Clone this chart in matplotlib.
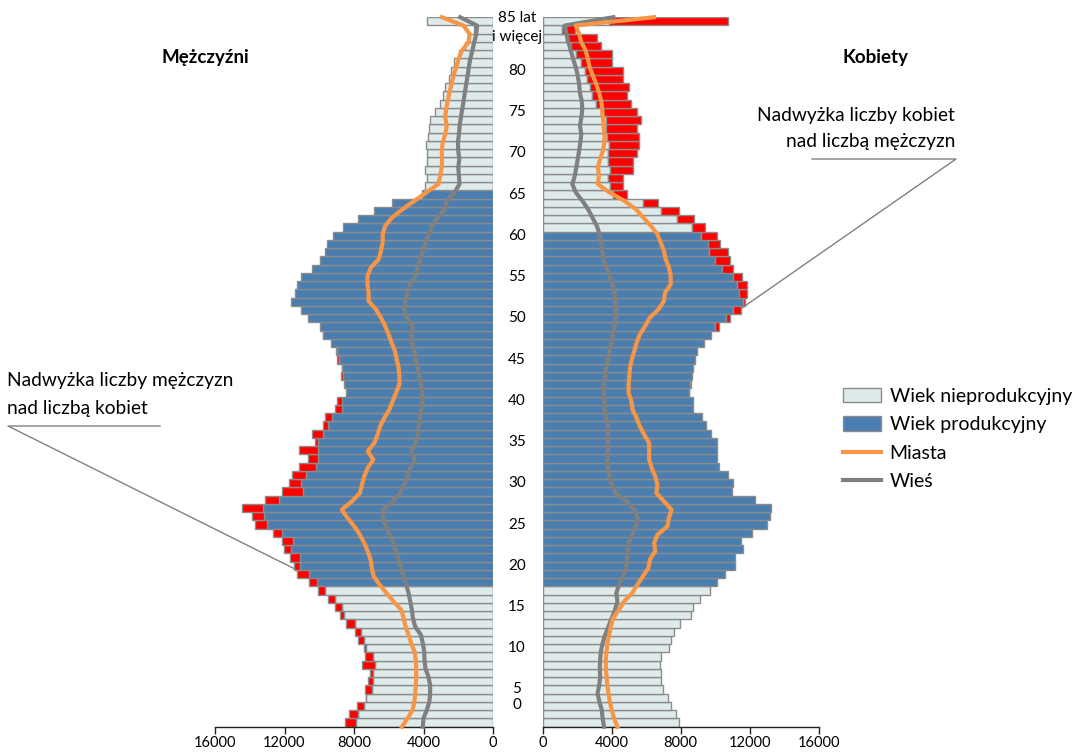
"""
Piramida wieku ludnosci: mezczyzni i kobiety, miasta i wies
"""

import numpy
import matplotlib
matplotlib.use('Agg')
import matplotlib.pyplot as plt
from matplotlib import transforms
from matplotlib.lines import Line2D
from matplotlib.patches import Patch

plt.rcParams['font.family'] = ['Lato', 'DejaVu Sans']

# one row per year of age, last row is "85 lat i wiecej"
ages = list(range(86))

men_total = [8520, 8290, 7850, 7300, 7390, 7180, 7090, 7530, 7390, 7430,
             7770, 7960, 8480, 8800, 9090, 9490, 10060, 10570, 11300, 11480,
             11700, 12030, 12120, 12690, 13700, 13890, 14430, 13120, 12120, 11740,
             11580, 11160, 10620, 11160, 10250, 10390, 9770, 9660, 9080, 9000,
             8460, 8560, 8750, 8710, 8960, 9050, 9330, 9790, 9970, 10640,
             11060, 11620, 11390, 11290, 11060, 10390, 9970, 9660, 9560, 9200,
             8660, 7790, 6830, 5830, 4080, 3890, 3810, 3930, 3770, 3770,
             3850, 3750, 3670, 3650, 3360, 3070, 2860, 2750, 2540, 2430,
             2240, 1940, 1630, 1360, 1100, 3820]

women_total = [7900, 7750, 7420, 7290, 6980, 6880, 6880, 6800, 6880, 7310,
               7420, 7600, 7960, 8600, 8710, 9090, 9680, 10110, 10580, 11120,
               11120, 11630, 11500, 12150, 13030, 13170, 13260, 12310, 10960, 11060,
               10770, 10200, 10100, 10100, 10100, 9770, 9470, 9240, 8700, 8700,
               8470, 8600, 8650, 8700, 8850, 8950, 9330, 9780, 10200, 10870,
               11500, 11700, 11820, 11820, 11580, 11060, 10870, 10730, 10290, 10100,
               9430, 8760, 7900, 6710, 4870, 4640, 4640, 5210, 5210, 5440,
               5560, 5560, 5440, 5690, 5440, 5120, 4870, 4980, 4640, 4640,
               4030, 4030, 3390, 3140, 1860, 10770]

men_urban = [5240, 4920, 4630, 4520, 4480, 4440, 4420, 4420, 4440, 4520,
             4710, 4860, 5030, 5140, 5280, 5720, 6130, 6520, 6860, 6980,
             7040, 7210, 7410, 7660, 7980, 8370, 8700, 8120, 7660, 7540,
             7410, 7210, 6890, 7210, 6830, 6640, 6500, 6250, 5960, 5770,
             5580, 5390, 5390, 5430, 5540, 5640, 5830, 6010, 6200, 6450,
             6740, 7160, 7160, 7220, 7220, 7030, 6580, 6450, 6350, 6350,
             6200, 5810, 5200, 4520, 3850, 3140, 3040, 2950, 2930, 2950,
             2890, 2750, 2660, 2750, 2700, 2600, 2500, 2390, 2270, 2120,
             1980, 1790, 1410, 1350, 1700, 2940]

men_rural = [4040, 4000, 3810, 3660, 3620, 3620, 3720, 3890, 3940, 3960,
             4040, 4150, 4480, 4610, 4670, 4760, 4860, 4990, 5140, 5290,
             5430, 5580, 5730, 5960, 6160, 6350, 6310, 5770, 5350, 5100,
             4910, 4770, 4500, 4710, 4460, 4330, 4270, 4190, 4140, 4040,
             4080, 4140, 4230, 4330, 4460, 4520, 4660, 4710, 4620, 4960,
             5100, 5040, 4910, 4770, 4460, 4330, 4190, 4040, 3890, 3690,
             3500, 3180, 2790, 2660, 2210, 1930, 1960, 2000, 1940, 2000,
             2020, 1960, 1920, 1850, 1770, 1690, 1620, 1540, 1460, 1390,
             1310, 1190, 1080, 960, 920, 1890]

women_urban = [4330, 4140, 4000, 3890, 3810, 3750, 3700, 3660, 3660, 3700,
               3750, 3850, 3950, 4080, 4420, 4710, 5190, 5480, 5800, 6130,
               6210, 6520, 6460, 6650, 7230, 7320, 7470, 7030, 6590, 6650,
               6520, 6320, 6170, 6170, 6170, 5880, 5630, 5440, 5210, 5140,
               4980, 4980, 5020, 5060, 5170, 5310, 5440, 5630, 5940, 6210,
               6710, 7030, 7090, 7420, 7420, 7320, 7130, 7030, 6840, 6650,
               6270, 5830, 5400, 4730, 3870, 3200, 3260, 3200, 3330, 3490,
               3580, 3580, 3530, 3490, 3450, 3390, 3260, 3100, 2910, 2720,
               2620, 2490, 2240, 2110, 1920, 6460]

women_rural = [3560, 3470, 3430, 3280, 3180, 3280, 3330, 3310, 3330, 3370,
               3470, 3620, 3810, 4000, 4190, 4330, 4270, 4420, 4650, 4830,
               4890, 4930, 4980, 5170, 5400, 5500, 5310, 4870, 4220, 4020,
               3870, 3780, 3740, 3780, 3780, 3780, 3780, 3680, 3580, 3580,
               3550, 3530, 3620, 3680, 3780, 3870, 3970, 4060, 4160, 4250,
               4250, 4220, 4160, 4060, 3870, 3680, 3530, 3450, 3390, 3300,
               3140, 2880, 2630, 2300, 1920, 1720, 1860, 1950, 2030, 2110,
               2180, 2240, 2160, 2240, 2300, 2260, 2150, 2110, 2030, 1920,
               1760, 1630, 1490, 1380, 1280, 4100]

# first and last row of working age
men_working = (17, 64)
women_working = (17, 59)

x_ticks = [0, 4000, 8000, 12000, 16000]
age_ticks = ['0', '5', '10', '15', '20', '25', '30', '35', '40', '45',
             '50', '55', '60', '65', '70', '75', '80']

LIGHT = '#DFEBEB'
BLUE = '#4A7EB0'
RED = '#FF0000'
EDGE = '#8C8C8C'
ORANGE = '#F79646'
GRAY = '#808080'

W, H = 1085, 755


def pyramid_side(ax, own, other, urban, rural, working):
    own = numpy.array(own)
    other = numpy.array(other)
    rows = numpy.array(ages)
    base = numpy.minimum(own, other)
    excess = own - base
    is_working = (rows >= working[0]) & (rows <= working[1])
    ax.barh(rows, base, height=1.0, left=0,
            color=numpy.where(is_working, BLUE, LIGHT),
            edgecolor=EDGE, linewidth=1.0, zorder=2)
    more = excess > 0
    ax.barh(rows[more], excess[more], height=1.0, left=base[more],
            color=RED, edgecolor=EDGE, linewidth=1.0, zorder=2)
    # the two lines run from the bottom edge of the lowest bar to the top edge of the highest
    line_y = numpy.linspace(-0.5, len(ages) - 0.5, len(ages))
    ax.plot(urban, line_y, color=ORANGE, linewidth=3.0, zorder=4,
            solid_joinstyle='round', clip_on=False)
    ax.plot(rural, line_y, color=GRAY, linewidth=3.0, zorder=3,
            solid_joinstyle='round', clip_on=False)
    ax.set_ylim(-0.5, len(ages) - 0.5)
    ax.set_xticks(x_ticks)
    ax.set_xticklabels([str(v) for v in x_ticks])
    ax.set_yticks([])
    for side in ('left', 'right', 'top'):
        ax.spines[side].set_visible(False)
    ax.spines['bottom'].set_color('#222222')
    ax.spines['bottom'].set_linewidth(1.0)
    ax.tick_params(axis='x', direction='out', length=5, width=1.0,
                   color='#222222', labelsize=10.5, pad=2)


fig = plt.figure(figsize=(W / 100, H / 100), dpi=100)
bottom = 1 - 726.7 / H
height = 709.5 / H
ax_m = fig.add_axes([215 / W, bottom, 278 / W, height])
ax_w = fig.add_axes([542.7 / W, bottom, 276 / W, height])

pyramid_side(ax_m, men_total, women_total, men_urban, men_rural, men_working)
ax_m.set_xlim(16000, 0)
pyramid_side(ax_w, women_total, men_total, women_urban, women_rural, women_working)
ax_w.set_xlim(0, 16000)

# age labels in the gap between the two halves
mid = transforms.blended_transform_factory(fig.transFigure, ax_w.transData)
label_rows = [2.1, 4.1] + [int(a) - 1 for a in age_ticks[2:]]
for text, row in zip(age_ticks, label_rows):
    fig.text(517 / W, row, text, transform=mid, ha='center', va='center',
             fontsize=11)
fig.text(517 / W, 85.45, '85 lat', transform=mid, ha='center', va='center',
         fontsize=11)
fig.text(517 / W, 83.1, 'i więcej', transform=mid, ha='center', va='center',
         fontsize=11)

fig.text(205 / W, 1 - 57 / H, 'Mężczyźni', ha='center', va='center',
         fontsize=13.5, fontweight='bold')
fig.text(875 / W, 1 - 57 / H, 'Kobiety', ha='center', va='center',
         fontsize=13.5, fontweight='bold')

# annotations with their leader lines
fig.text(955 / W, 1 - 116 / H, 'Nadwyżka liczby kobiet', ha='right',
         va='center', fontsize=13.8)
fig.text(955 / W, 1 - 141.7 / H, 'nad liczbą mężczyzn', ha='right',
         va='center', fontsize=13.8)
fig.text(7 / W, 1 - 380.7 / H, 'Nadwyżka liczby mężczyzn', ha='left',
         va='center', fontsize=13.8)
fig.text(7 / W, 1 - 409 / H, 'nad liczbą kobiet', ha='left',
         va='center', fontsize=13.8)


def leader(points):
    xs = [p[0] / W for p in points]
    ys = [1 - p[1] / H for p in points]
    fig.add_artist(Line2D(xs, ys, transform=fig.transFigure,
                          color=GRAY, linewidth=1.0))


leader([(812, 159), (956, 159), (742, 308)])
leader([(160, 426), (8, 426), (295, 569)])

handles = [Patch(facecolor=LIGHT, edgecolor=EDGE, linewidth=1.0),
           Patch(facecolor=BLUE, edgecolor=EDGE, linewidth=1.0),
           Line2D([], [], color=ORANGE, linewidth=3.0),
           Line2D([], [], color=GRAY, linewidth=3.0)]
labels = ['Wiek nieprodukcyjny', 'Wiek produkcyjny', 'Miasta', 'Wieś']
fig.legend(handles, labels, loc='upper left',
           bbox_to_anchor=(843 / W, 1 - 388 / H), frameon=False,
           fontsize=14, handlelength=1.95, handleheight=0.75,
           handletextpad=0.45, labelspacing=0.58, borderpad=0,
           borderaxespad=0)

fig.savefig('out.png', dpi=100)
